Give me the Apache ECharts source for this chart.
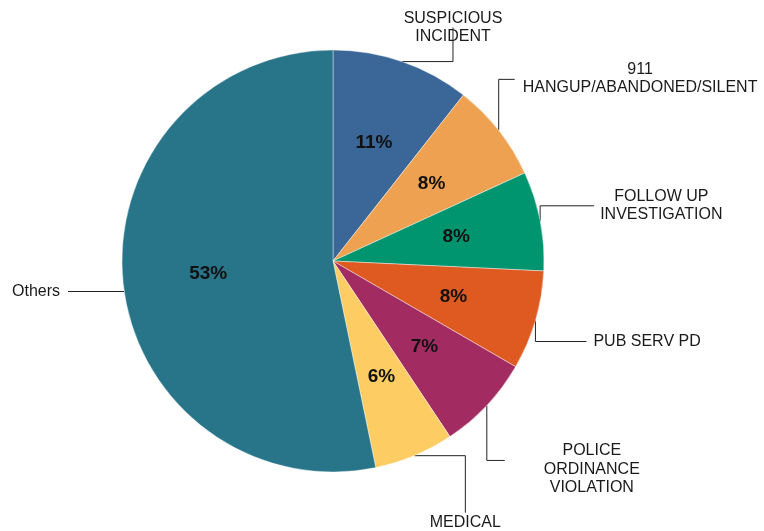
<!DOCTYPE html>
<html>
<head>
<meta charset="utf-8">
<script src="https://cdn.jsdelivr.net/npm/echarts@6/dist/echarts.min.js"></script>
<style>
html, body { margin: 0; padding: 0; background: #ffffff; }
#chart { width: 764px; height: 531px; }
</style>
</head>
<body>
<div id="chart"></div>
<script>
var categories = [
  'SUSPICIOUS\nINCIDENT',
  '911\nHANGUP/ABANDONED/SILENT',
  'FOLLOW UP\nINVESTIGATION',
  'PUB SERV PD',
  'POLICE\nORDINANCE\nVIOLATION',
  'MEDICAL',
  'Others'
];
var shares = [10.6, 7.55, 7.6, 7.6, 7.3, 6.1, 53.25];
var colors = ['#3a6698', '#eea251', '#00956f', '#de5a21', '#a22c61', '#fdcd63', '#287489'];

// leader line elbows: first leg, second leg, label offset from line end, anchor side, start shift along edge
var guides = [
  [51, 0, 0, -34, 0, 0, 'c', 0],
  [0, -51, 16, 0, 8, -1, 'l', 0],
  [0, -15, 54, 0, 6, 0, 'l', 0],
  [0, 21, 51, 0, 7, 0, 'l', 0],
  [0, 55, 18, 0, 39, 9, 'l', 0],
  [51, 0, 0, 57, 0, 10, 'c', 0],
  [-56, 0, 0, 0, -8, 0, 'r', 9]
];

var font = 'Arial, "Liberation Sans", sans-serif';
var chart = echarts.init(document.getElementById('chart'));

var pieData = categories.map(function (name, i) {
  return { name: name, value: shares[i], itemStyle: { color: colors[i] } };
});

function layoutLabel(p) {
  var g = guides[p.dataIndex];
  var p0 = [p.labelLinePoints[0][0] + g[7] / 9, p.labelLinePoints[0][1] + g[7]];
  var p1 = [p0[0] + g[0], p0[1] + g[1]];
  var p2 = [p1[0] + g[2], p1[1] + g[3]];
  var w = p.labelRect.width;
  var x = p2[0] + g[4];
  if (g[6] === 'l') x += w / 2;
  if (g[6] === 'r') x -= w / 2;
  return {
    x: x,
    y: p2[1] + g[5],
    align: 'center',
    verticalAlign: 'middle',
    labelLinePoints: [p0, p1, p2]
  };
}

var option = {
  animation: false,
  series: [
    {
      type: 'pie',
      center: [333, 261],
      radius: 211,
      startAngle: 90,
      clockwise: true,
      avoidLabelOverlap: false,
      silent: true,
      itemStyle: { borderColor: 'rgba(255,255,255,0.6)', borderWidth: 0.7 },
      label: {
        show: true,
        position: 'outside',
        color: '#1a1a1a',
        fontFamily: font,
        fontSize: 16,
        lineHeight: 18.5,
        align: 'center'
      },
      labelLine: {
        show: true,
        length: 10,
        length2: 10,
        lineStyle: { color: '#222', width: 1 }
      },
      labelLayout: layoutLabel,
      data: pieData
    },
    {
      type: 'pie',
      center: [333, 261],
      radius: [34, 211],
      startAngle: 90,
      clockwise: true,
      silent: true,
      itemStyle: { color: 'rgba(0,0,0,0)' },
      label: {
        show: true,
        position: 'inside',
        color: '#111',
        fontFamily: font,
        fontWeight: 'bold',
        fontSize: 19,
        formatter: function (p) { return Math.round(p.percent) + '%'; }
      },
      labelLine: { show: false },
      data: shares.map(function (v, i) { return { name: categories[i], value: v }; })
    }
  ]
};

chart.setOption(option);
</script>
</body>
</html>
